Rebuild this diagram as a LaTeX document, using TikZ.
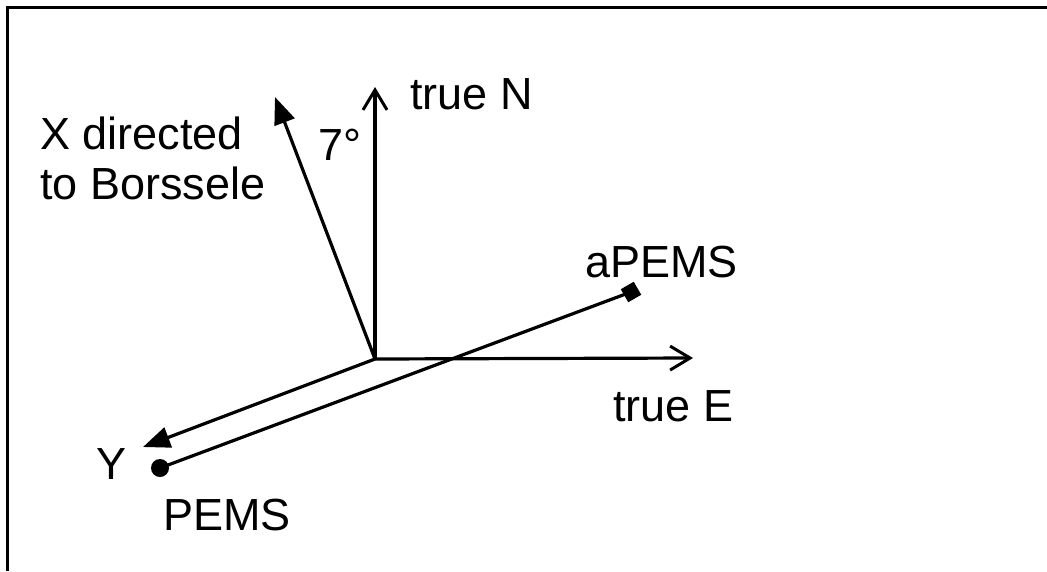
\documentclass[tikz,border=0pt]{standalone}
\usepackage{fontspec}
\setmainfont{Liberation Sans}
\usetikzlibrary{arrows.meta}
\begin{document}
\begin{tikzpicture}[x=1pt,y=-1pt,
  ln/.style={line width=3.2pt},
  filledtip/.style={-{Triangle[length=27pt,width=21pt]}},
  opentip/.style={-{Straight Barb[length=20pt,width=24pt,line width=3pt]}},
  lbl/.style={anchor=base west,inner sep=0pt,font=\fontsize{45}{52}\selectfont}]
\useasboundingbox (0,0) rectangle (1047,571);
% frame (top and left only)
\draw[line width=3pt] (1047,7) -- (7,7) -- (7,571);
% points
\coordinate (O) at (375,359);
\coordinate (Ntip) at (375,87);
\coordinate (Etip) at (693,358);
\coordinate (Xtip) at (275,97);
\coordinate (Ytip) at (143,447);
\node[circle,fill=black,inner sep=0pt,minimum size=18pt] (pems) at (160,468) {};
\node[rectangle,fill=black,inner sep=0pt,minimum size=15pt,rotate=30] (apems) at (631,292) {};
% axes
\draw[ln,opentip] (O) -- (Ntip);
\draw[ln,opentip] (O) -- (Etip);
\draw[ln,filledtip] (O) -- (Xtip);
\draw[ln,filledtip] (O) -- (Ytip);
\draw[ln] (pems.center) -- (apems.center);
% labels
\node[lbl] (lN) at (410,109) {true N};
\node[lbl] (l7) at (318,160) {7°};
\node[lbl] (lX1) at (40,149) {X directed};
\node[lbl] (lX2) at (40,199) {to Borssele};
\node[lbl] (lA) at (585,277) {aPEMS};
\node[lbl] (lE) at (613,421) {true E};
\node[lbl] (lY) at (96,479) {Y};
\node[lbl] (lP) at (163,530) {PEMS};
\end{tikzpicture}
\end{document}
